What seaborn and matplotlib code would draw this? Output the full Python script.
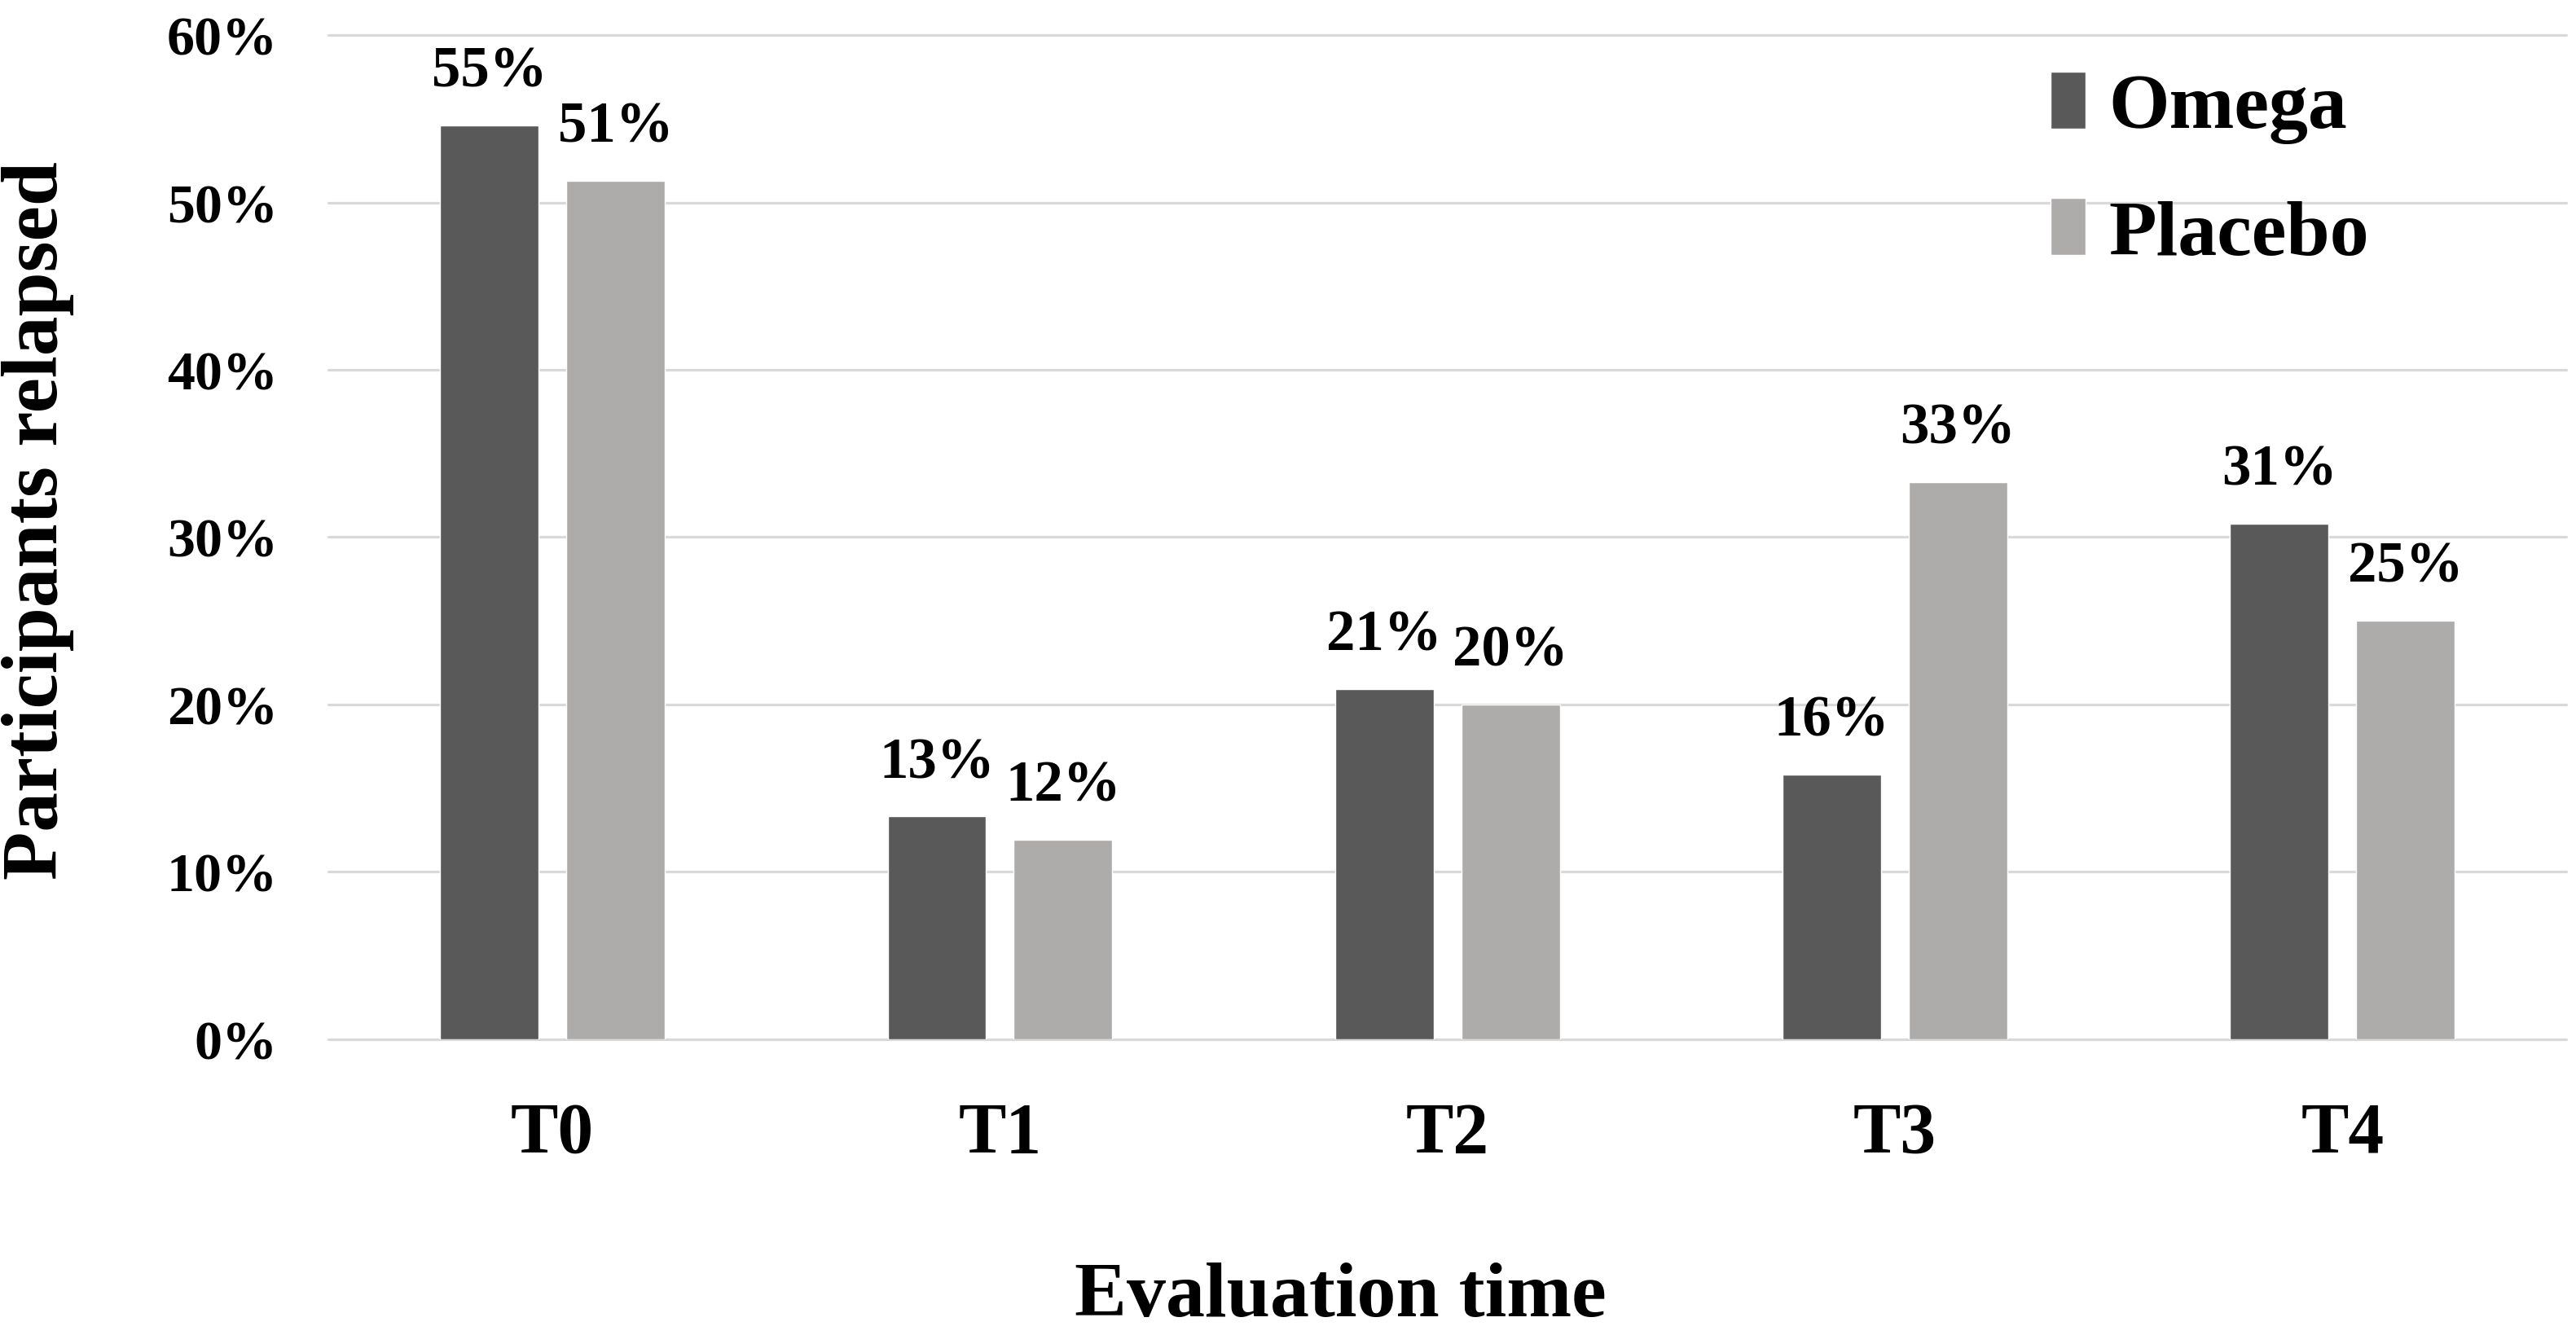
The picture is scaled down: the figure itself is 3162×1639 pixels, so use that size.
import pandas as pd
import seaborn as sns
import matplotlib.pyplot as plt

# values (percent of participants relapsed)
times = ["T0", "T1", "T2", "T3", "T4"]
omega = [54.6, 13.3, 20.9, 15.8, 30.8]
placebo = [51.3, 11.9, 20.0, 33.3, 25.0]
groups = ["Omega", "Placebo"]
yticks = [0, 10, 20, 30, 40, 50, 60]

df = pd.DataFrame({
    "time": times * 2,
    "value": omega + placebo,
    "group": [groups[0]] * len(times) + [groups[1]] * len(times),
})

sns.set_style("white")
plt.rcParams["font.family"] = ["Liberation Serif", "DejaVu Serif"]
plt.rcParams["font.weight"] = "bold"
plt.rcParams["text.color"] = "black"
plt.rcParams["axes.labelcolor"] = "black"
plt.rcParams["xtick.color"] = "black"
plt.rcParams["ytick.color"] = "black"

fig, ax = plt.subplots(figsize=(31.62, 16.40), dpi=100)
plt.subplots_adjust(left=0.1276, right=0.9962, bottom=0.2216, top=0.973)

sns.barplot(data=df, x="time", y="value", hue="group", order=times,
            hue_order=groups, palette=["#595959", "#aeabab"],
            width=0.564, gap=0.22, saturation=1, ax=ax)

for cont in ax.containers:
    ax.bar_label(cont, fmt="{:.0f}%", padding=24, fontsize=51,
                 fontweight="bold", color="black")

ax.set_ylim(0, 60)
ax.set_xlim(-0.5, 4.5)
ax.set_yticks(yticks)
ax.set_yticklabels([f"{t}%" for t in yticks])
ax.tick_params(axis="y", length=0, pad=45, labelsize=49)
ax.tick_params(axis="x", length=0, pad=55, labelsize=63)
for lab in ax.get_xticklabels() + ax.get_yticklabels():
    lab.set_fontweight("bold")

ax.grid(axis="y", color="#d9d9d9", linewidth=2.3)
ax.set_axisbelow(True)
for gl in ax.yaxis.get_gridlines():
    gl.set_clip_on(False)
for s in ax.spines.values():
    s.set_visible(False)

ax.set_xlabel("Evaluation time", fontsize=69, fontweight="bold")
ax.set_ylabel("Participants relapsed", fontsize=70, fontweight="bold")
ax.xaxis.set_label_coords(0.452, -0.222)
ax.yaxis.set_label_coords(-0.1136, 0.517)

handles, labels = ax.get_legend_handles_labels()
ax.legend(handles, labels, loc="upper left", bbox_to_anchor=(0.796, 0.946),
          bbox_transform=fig.transFigure, frameon=False,
          prop={"weight": "bold", "size": 69}, handlelength=0.45,
          handleheight=0.75, handletextpad=0.3, labelspacing=0.7,
          borderpad=0, borderaxespad=0)

fig.savefig("out.png", dpi=100)
